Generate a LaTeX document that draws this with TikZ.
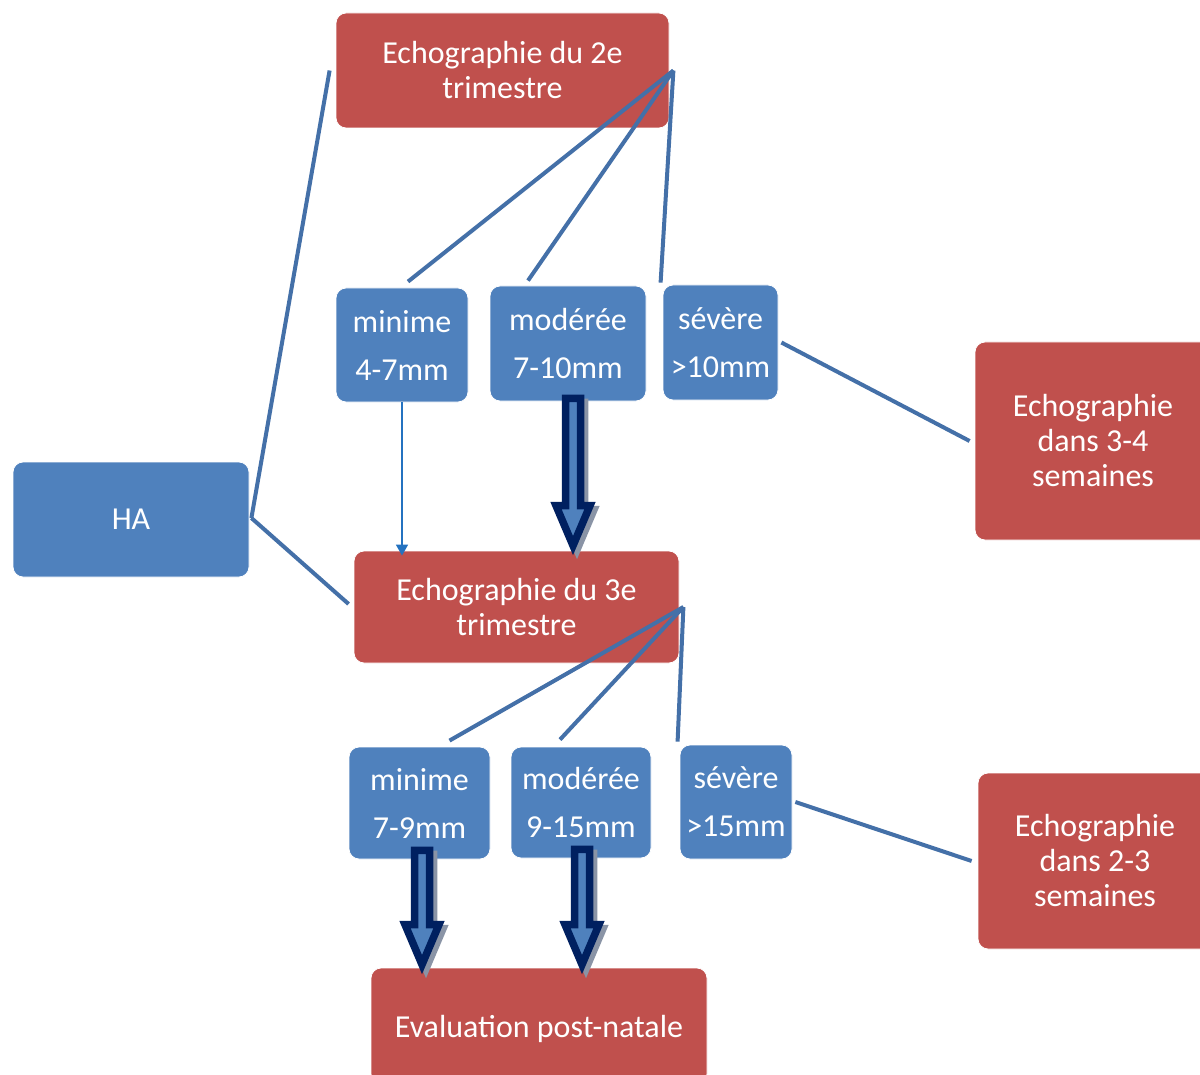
\documentclass[tikz,border=0pt]{standalone}
\usepackage{fontspec}
\setmainfont{Carlito}
\usetikzlibrary{calc,arrows.meta}
\definecolor{boxred}{HTML}{C0504D}
\definecolor{boxblue}{HTML}{4F81BD}
\definecolor{linkblue}{HTML}{4470A8}
\definecolor{thinblue}{HTML}{2472C0}
\definecolor{navy}{HTML}{002060}
\definecolor{shadowgray}{HTML}{8A94A6}
\tikzset{
  basebox/.style={rectangle, rounded corners=10pt, draw=white, line width=0.8pt, text=white,
    align=center, inner sep=0pt, font=\fontsize{32}{35}\selectfont},
  redbox/.style={basebox, fill=boxred},
  bluebox/.style={basebox, fill=boxblue},
  sizebox/.style={bluebox, font=\fontsize{32}{48}\selectfont},
  link/.style={draw=linkblue, line width=4pt},
  thinarrow/.style={draw=thinblue, line width=1.5pt, -{Triangle[width=12pt,length=11pt]}},
  blockarr/.style={draw=navy, fill=boxblue, line width=7.5pt, line join=miter},
  blockshadow/.style={draw=shadowgray, fill=shadowgray, line width=7.5pt, line join=miter},
}
\newcommand\blockarrow[2]{%
  \path[blockshadow] let \p1=(#1), \p2=(#2) in
    (\x1-7.5pt+4pt,\y1-4pt) -- (\x1+7.5pt+4pt,\y1-4pt) -- (\x1+7.5pt+4pt,\y2+40pt-4pt) -- (\x1+17pt+4pt,\y2+40pt-4pt)
    -- (\x1+4pt,\y2-4pt) -- (\x1-17pt+4pt,\y2+40pt-4pt) -- (\x1-7.5pt+4pt,\y2+40pt-4pt) -- cycle;
  \path[blockarr] let \p1=(#1), \p2=(#2) in
    (\x1-7.5pt,\y1) -- (\x1+7.5pt,\y1) -- (\x1+7.5pt,\y2+40pt) -- (\x1+17pt,\y2+40pt)
    -- (\x1,\y2) -- (\x1-17pt,\y2+40pt) -- (\x1-7.5pt,\y2+40pt) -- cycle;
}
\begin{document}
\begin{tikzpicture}[x=1pt,y=-1pt]
\clip (0,0) rectangle (1200,1075);
\fill[white] (0,0) rectangle (1200,1075);

% nodes
\node[redbox, minimum width=333pt, minimum height=115pt] (E2) at (502.5,70.5) {Echographie du 2e\\trimestre};
\node[sizebox, minimum width=132pt, minimum height=114pt] (min1) at (402,345) {minime\\4-7mm};
\node[sizebox, minimum width=156pt, minimum height=115pt] (mod1) at (568,343.5) {modérée\\7-10mm};
\node[sizebox, minimum width=115pt, minimum height=115pt] (sev1) at (720.5,342.5) {sévère\\>10mm};
\node[redbox, minimum width=236pt, minimum height=198pt] (E34) at (1093,441) {Echographie\\dans 3-4\\semaines};
\node[bluebox, minimum width=236pt, minimum height=115pt] (HA) at (131,519.5) {HA};
\node[redbox, minimum width=325pt, minimum height=112pt] (E3) at (516.5,607) {Echographie du 3e\\trimestre};
\node[sizebox, minimum width=141pt, minimum height=112pt] (min2) at (419.5,803) {minime\\7-9mm};
\node[sizebox, minimum width=140pt, minimum height=111pt] (mod2) at (581,802.5) {modérée\\9-15mm};
\node[sizebox, minimum width=112pt, minimum height=114pt] (sev2) at (736,802) {sévère\\>15mm};
\node[redbox, minimum width=234pt, minimum height=176pt] (E23) at (1095,861) {Echographie\\dans 2-3\\semaines};
\node[redbox, minimum width=336pt, minimum height=116pt, text depth=0pt] (EV) at (539,1026) {Evaluation post-natale};

% links from 2e trimestre
\coordinate (e2o) at ([xshift=4pt]E2.east);
\draw[link] (e2o) -- ([shift={(6pt,6pt)}]min1.north);
\draw[link] (e2o) -- ([shift={(-40pt,5pt)}]mod1.north);
\draw[link] (e2o) -- ([shift={(-2pt,2pt)}]sev1.north west);

% links from HA
\coordinate (hao) at ([xshift=2pt,yshift=1.5pt]HA.east);
\draw[link] (hao) -- ([xshift=-6pt]E2.west);
\draw[link] (hao) -- ([shift={(-5pt,3pt)}]E3.west);

% severe links
\draw[link] ([xshift=3pt]sev1.east) -- ([xshift=-5pt]E34.west);
\draw[link] ([xshift=3pt]sev2.east) -- ([xshift=-6pt]E23.west);

% links from 3e trimestre
\coordinate (e3o) at ([xshift=4pt]E3.east);
\draw[link] (e3o) -- ([shift={(30pt,6pt)}]min2.north);
\draw[link] (e3o) -- ([shift={(-21pt,7pt)}]mod2.north);
\draw[link] (e3o) -- ([shift={(-2pt,3pt)}]sev2.north west);

% thin arrow
\draw[thinarrow] (min1.south) -- ([yshift=-5pt]min1.south |- E3.north);

% block arrows
\coordinate (b1s) at ([shift={(5pt,3pt)}]mod1.south);
\coordinate (b1e) at ([yshift=5pt]b1s |- E3.north);
\blockarrow{b1s}{b1e}
\coordinate (b2s) at ([shift={(2.5pt,9pt)}]min2.south);
\coordinate (b2e) at ([yshift=3pt]b2s |- EV.north);
\blockarrow{b2s}{b2e}
\coordinate (b3s) at ([shift={(1pt,9pt)}]mod2.south);
\coordinate (b3e) at ([yshift=3pt]b3s |- EV.north);
\blockarrow{b3s}{b3e}
\end{tikzpicture}
\end{document}
